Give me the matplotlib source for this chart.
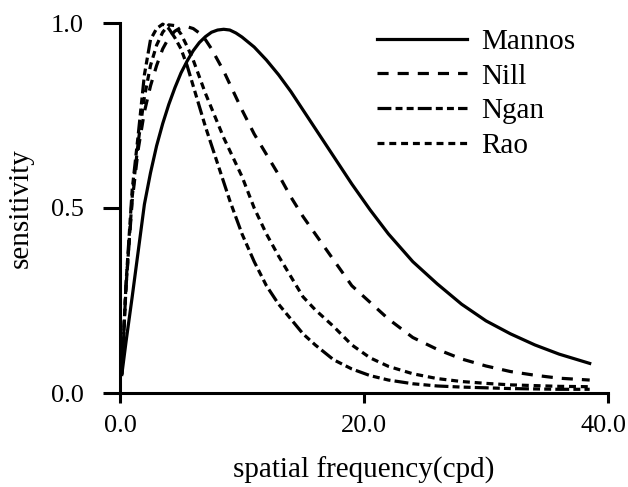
import matplotlib
matplotlib.use("Agg")
import matplotlib.pyplot as plt
import matplotlib.transforms as mtransforms

plt.rcParams['font.family'] = ['Liberation Serif', 'DejaVu Serif']
plt.rcParams['lines.scale_dashes'] = False

freq = [0.15, 0.5, 1.0, 1.5, 2.0, 2.5, 3.0, 3.5, 4.0, 4.5, 5.0, 5.5, 6.0, 6.5, 7.0,
        7.5, 8.0, 8.5, 9.0, 9.5, 10.0, 11.0, 12.0, 13.0, 14.0, 15.0, 16.0, 17.5,
        19.0, 20.5, 22.0, 24.0, 26.0, 28.0, 30.0, 32.0, 34.0, 36.0, 38.5]

mannos = [0.05, 0.14, 0.26, 0.385, 0.51, 0.595, 0.668, 0.728, 0.78, 0.825, 0.865, 0.897,
          0.925, 0.947, 0.963, 0.975, 0.981, 0.983, 0.981, 0.973, 0.962, 0.935, 0.90,
          0.86, 0.815, 0.765, 0.715, 0.64, 0.565, 0.495, 0.43, 0.355, 0.295, 0.24,
          0.195, 0.16, 0.13, 0.105, 0.08]

nill = [0.06, 0.29, 0.52, 0.66, 0.76, 0.83, 0.885, 0.93, 0.96, 0.978, 0.988, 0.99,
        0.985, 0.973, 0.955, 0.93, 0.90, 0.87, 0.835, 0.80, 0.765, 0.70, 0.645, 0.59,
        0.53, 0.477, 0.43, 0.36, 0.29, 0.245, 0.20, 0.15, 0.118, 0.092, 0.073, 0.058,
        0.048, 0.04, 0.035]

ngan = [0.05, 0.30, 0.55, 0.70, 0.86, 0.955, 0.985, 0.997, 0.985, 0.96, 0.93, 0.885,
        0.83, 0.775, 0.72, 0.67, 0.62, 0.57, 0.52, 0.475, 0.43, 0.355, 0.29, 0.24,
        0.20, 0.16, 0.13, 0.09, 0.065, 0.047, 0.035, 0.025, 0.019, 0.016, 0.014,
        0.012, 0.011, 0.01, 0.01]

rao = [0.05, 0.29, 0.53, 0.68, 0.80, 0.885, 0.94, 0.975, 0.995, 0.993, 0.97, 0.937,
       0.90, 0.855, 0.81, 0.77, 0.73, 0.69, 0.655, 0.62, 0.585, 0.50, 0.43, 0.37,
       0.315, 0.26, 0.225, 0.18, 0.13, 0.095, 0.072, 0.052, 0.039, 0.031, 0.026,
       0.022, 0.02, 0.018, 0.017]

labels = ["Mannos", "Nill", "Ngan", "Rao"]
xticks = [0.0, 20.0, 40.0]
yticks = [0.0, 0.5, 1.0]

fig = plt.figure(figsize=(6.28, 4.87), dpi=100)
ax = fig.add_axes([120/628, 1-393/487, 488/628, 370/487])

lw = 2.3
ax.plot(freq, mannos, color='black', lw=lw, linestyle='-', label=labels[0], clip_on=False)
ax.plot(freq, nill, color='black', lw=lw, linestyle=(0, (8, 6.5)), label=labels[1], clip_on=False)
ax.plot(freq, ngan, color='black', lw=lw, linestyle=(0, (10, 3, 5, 3, 5, 3)), label=labels[2], clip_on=False)
ax.plot(freq, rao, color='black', lw=lw, linestyle=(0, (5, 3.5)), label=labels[3], clip_on=False)

ax.set_xlim(0, 40)
ax.set_ylim(0, 1.0)
ax.set_xticks(xticks)
ax.set_xticklabels([f"{v:.1f}" for v in xticks])
ax.set_yticks(yticks)
ax.set_yticklabels([f"{v:.1f}" for v in yticks])
for s in ['top', 'right']:
    ax.spines[s].set_visible(False)
for s in ['left', 'bottom']:
    ax.spines[s].set_linewidth(2.2)
ax.tick_params(axis='x', direction='out', length=7, width=2.2, pad=9, labelsize=19)
ax.tick_params(axis='y', direction='out', length=12, width=2.2, pad=14, labelsize=19)

# nudge the last x tick label left so it stays inside the figure
last = ax.get_xticklabels()[-1]
last.set_transform(last.get_transform() + mtransforms.ScaledTranslation(-5/100, 0, fig.dpi_scale_trans))

ax.set_xlabel("spatial frequency(cpd)", fontsize=21, labelpad=14)
ax.set_ylabel("sensitivity", fontsize=21, labelpad=12)

ax.legend(loc='upper left', bbox_to_anchor=(0.527, 0.985), frameon=False, fontsize=21,
          handlelength=3.08, handletextpad=0.5, labelspacing=0.28,
          borderpad=0, borderaxespad=0)

fig.savefig("out.png", dpi=100)
